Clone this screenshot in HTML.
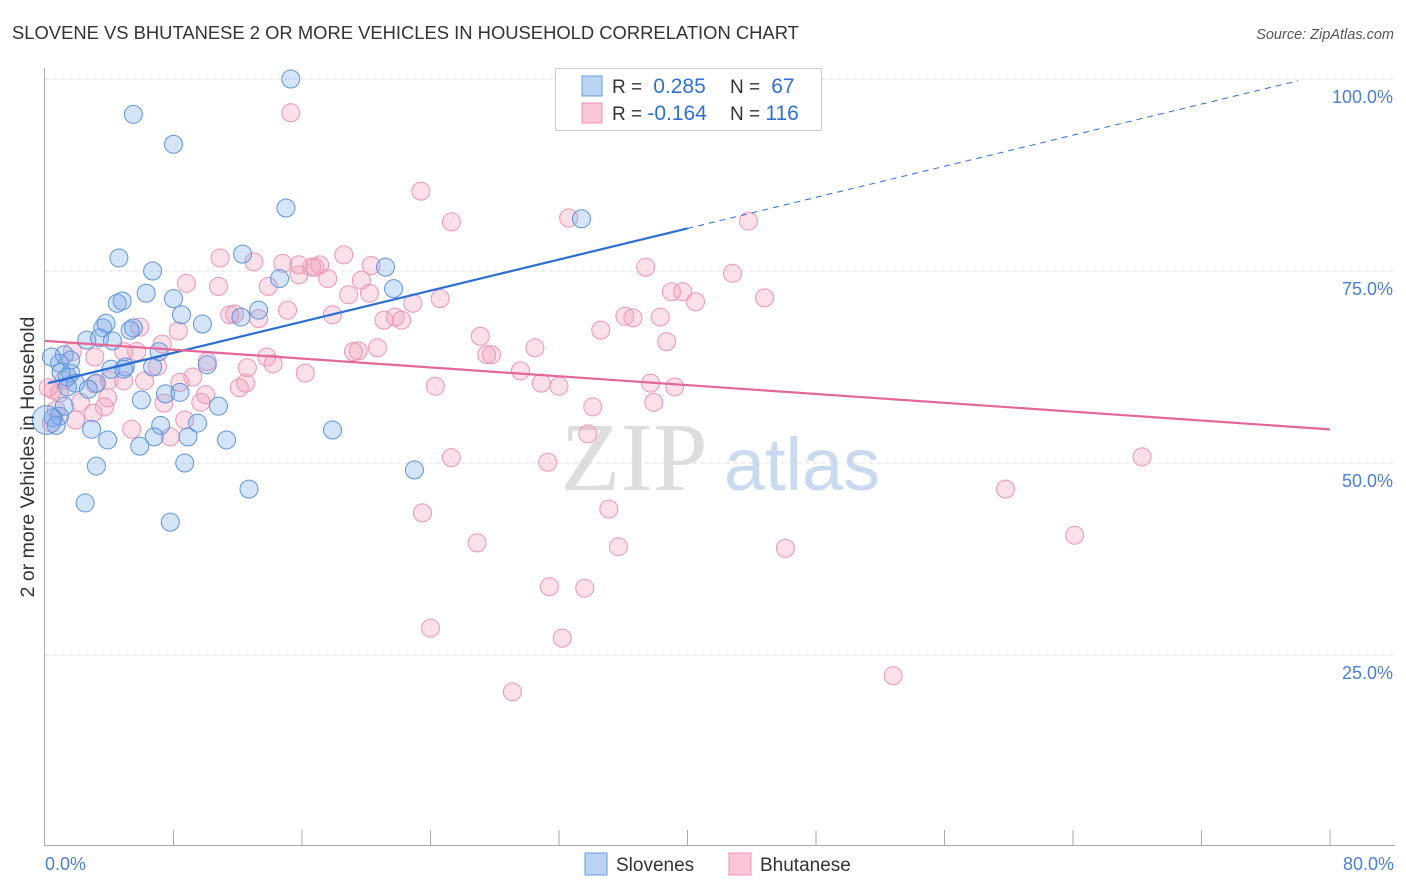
<!DOCTYPE html>
<html><head><meta charset="utf-8"><style>
body{margin:0;background:#fff;font-family:"Liberation Sans",sans-serif}
#wrap{position:relative;width:1406px;height:892px;overflow:hidden}
</style></head><body>
<div id="wrap">
<svg id="svg" width="1406" height="892" xmlns="http://www.w3.org/2000/svg">
<text x="12" y="39" font-size="18.4" fill="#333">SLOVENE VS BHUTANESE 2 OR MORE VEHICLES IN HOUSEHOLD CORRELATION CHART</text>
<text x="1394" y="39" font-size="14.5" fill="#555" font-style="italic" text-anchor="end">Source: ZipAtlas.com</text>
<text x="634" y="490" font-size="98" fill="#ddd" font-family="Liberation Serif,serif" text-anchor="middle">ZIP</text>
<text x="802" y="490" font-size="74" fill="#c9daf0" text-anchor="middle">atlas</text>
<g id="grid"></g><g id="pts"></g><g id="lines"></g>
<text x="34" y="457" font-size="19.5" fill="#333" text-anchor="middle" transform="rotate(-90 34 457)">2 or more Vehicles in Household</text>
<text x="45" y="870" font-size="18" fill="#4a7fd4">0.0%</text>
<text x="1394" y="870" font-size="18" fill="#4a7fd4" text-anchor="end">80.0%</text>
<g>
<rect x="555.5" y="68.5" width="266" height="62" fill="#fff" stroke="#ccc"/>
<rect x="582" y="76" width="20" height="20" fill="#b9d3f3" stroke="#6a9de0"/>
<rect x="582" y="103" width="20" height="20" fill="#f9c6d6" stroke="#ee93b2"/>
<text x="612" y="93" font-size="19" fill="#333">R = <tspan fill="#2f6fd6" font-size="21">&#160;0.285</tspan><tspan x="730">N = </tspan><tspan fill="#2f6fd6" font-size="21">&#160;67</tspan></text>
<text x="612" y="120" font-size="19" fill="#333">R = <tspan fill="#2f6fd6" font-size="21">-0.164</tspan><tspan x="730">N = </tspan><tspan fill="#2f6fd6" font-size="21">116</tspan></text>
</g>
<g>
<rect x="585" y="853" width="22" height="22" fill="#b9d3f3" stroke="#6a9de0"/>
<text x="616" y="871" font-size="19" fill="#333">Slovenes</text>
<rect x="729" y="853" width="22" height="22" fill="#f9c6d6" stroke="#ee93b2"/>
<text x="760" y="871" font-size="19" fill="#333">Bhutanese</text>
</g>
</svg></div>
<script>
const yTicks=[100,75,50,25];
const yTickLabels=["100.0%","75.0%","50.0%","25.0%"];
const xTicks=[0,8,16,24,32,40,48,56,64,72,80];
const blueX=[15.3,5.5,8.0,15.0,33.4,4.6,12.3,6.7,21.2,14.6,6.3,21.7,4.5,4.8,8.0,13.3,12.2,8.5,9.8,3.6,3.8,5.5,5.3,2.6,3.4,4.2,1.2,7.1,0.9,5.0,6.7,1.6,10.1,1.4,1.9,3.2,2.7,1.4,6.0,7.5,8.4,10.8,0.5,0.9,2.9,9.5,7.2,3.9,6.8,8.9,11.3,5.9,17.9,3.2,8.7,23.0,2.5,12.7,7.8,0.7,1.0,0.4,1.6,4.1,4.9,1.2,0.1];
const blueY=[100.0,95.4,91.5,83.2,81.8,76.7,77.2,75.0,75.5,74.0,72.1,72.7,70.8,71.1,71.4,69.9,69.0,69.3,68.1,67.6,68.2,67.6,67.3,66.0,66.3,65.9,64.1,64.5,63.0,62.5,62.5,61.7,62.8,61.2,60.4,60.4,59.6,59.9,58.2,59.0,59.2,57.4,55.9,56.1,54.4,55.2,54.9,53.0,53.4,53.4,53.0,52.2,54.3,49.6,50.0,49.1,44.8,46.6,42.3,54.9,61.8,63.8,63.4,62.2,62.2,57.4,55.6];
const blueSize=blueX.map((v,i)=>i===blueX.length-1?1.6:1);
const pinkX=[15.3,23.4,25.3,32.6,43.8,43.0,37.4,42.8,10.9,13.0,8.8,10.8,14.8,15.8,16.6,17.1,18.6,17.6,20.3,15.8,16.8,19.7,20.2,18.9,13.9,22.9,15.1,11.8,13.3,11.5,17.9,21.1,21.8,22.2,24.6,27.1,34.6,36.1,36.6,39.0,39.7,40.5,38.3,44.8,38.7,30.5,27.5,27.8,19.5,20.7,19.2,5.9,5.7,7.3,8.3,4.9,4.0,13.8,14.2,7.0,10.1,12.6,16.2,9.2,3.1,1.7,1.2,3.1,3.9,4.9,6.2,8.4,12.1,12.5,10.0,24.3,29.6,30.9,32.0,37.7,39.2,37.9,7.4,9.7,5.4,3.7,1.9,3.0,0.9,0.7,0.2,0.4,7.8,33.8,34.1,25.3,31.3,68.3,59.8,35.1,23.5,26.9,35.7,46.1,64.1,31.4,33.6,24.0,32.2,29.1,52.8,0.5,2.2,8.7];
const pinkY=[95.6,85.4,81.4,81.9,81.5,99.9,75.5,74.7,76.7,76.2,73.4,73.0,76.0,75.8,75.5,75.8,77.1,74.0,75.7,74.5,75.5,73.8,72.1,71.9,73.0,70.8,69.9,69.4,68.8,69.3,69.3,68.6,69.0,68.6,71.4,66.5,67.3,69.1,68.9,72.3,72.3,71.0,69.0,71.5,65.8,65.0,64.1,64.1,64.6,65.0,64.5,67.7,64.5,65.5,67.2,64.5,60.8,63.8,62.9,62.6,63.2,62.4,61.7,61.2,63.8,64.5,60.8,60.3,58.5,60.7,60.7,60.5,59.8,60.4,58.9,60.0,62.0,60.4,60.0,60.4,59.9,57.9,57.8,57.9,54.4,57.3,55.6,56.5,59.1,56.9,59.8,55.2,53.4,53.8,57.3,50.7,50.1,50.8,46.6,44.0,43.5,39.6,39.1,38.9,40.6,33.9,33.7,28.5,27.2,20.2,22.3,59.5,57.9,55.6];
const blueFit=[60.3,0.506], pinkFit=[65.9,-0.144];
const NS="http://www.w3.org/2000/svg";
const X=v=>45+v/80*1285, Y=v=>847-v/100*768;
function mk(t,a,p){const e=document.createElementNS(NS,t);for(const k in a)e.setAttribute(k,a[k]);p.appendChild(e);return e;}
const grid=document.getElementById('grid');
yTicks.forEach((t,i)=>{
 const l=mk('line',{x1:45,x2:1395,y1:Y(t),y2:Y(t),stroke:'#ddd','stroke-dasharray':'4,4'},grid);
 
 
 const tx=mk('text',{x:1393,y:Y(t)+24,'font-size':18,fill:'#4a7fd4','text-anchor':'end'},grid);
 tx.textContent=yTickLabels[i];
 
 
});
const ax=mk('line',{x1:44.5,x2:44.5,y1:68,y2:845,stroke:'#aaa'},grid);


const bx=mk('line',{x1:44,x2:1395,y1:845.5,y2:845.5,stroke:'#aaa'},grid);


xTicks.slice(1).forEach(t=>{
 const l=mk('line',{x1:X(t),x2:X(t),y1:830,y2:845,stroke:'#aaa'},grid);
 
 
});
const pts=document.getElementById('pts');
pinkX.forEach((x,i)=>{
 const c=mk('circle',{cx:X(x),cy:Y(pinkY[i]),r:9,fill:'rgba(244,160,188,0.32)',stroke:'#ec94b2','stroke-width':1},pts);
 
 
});
blueX.forEach((x,i)=>{
 const c=mk('circle',{cx:X(x),cy:Y(blueY[i]),r:9*blueSize[i],fill:'rgba(120,170,235,0.32)',stroke:'#5f93dc','stroke-width':1},pts);
 
 
});
const lines=document.getElementById('lines');
const b1=mk('line',{x1:X(0.2),y1:Y(blueFit[0]+blueFit[1]*0.2),x2:X(40),y2:Y(blueFit[0]+blueFit[1]*40),stroke:'#2b6fd6','stroke-width':2.2},lines);


const b2=mk('line',{x1:X(40),y1:Y(blueFit[0]+blueFit[1]*40),x2:X(78),y2:Y(blueFit[0]+blueFit[1]*78),stroke:'#2b6fd6','stroke-width':1,'stroke-dasharray':'6,5'},lines);


const p1=mk('line',{x1:X(0),y1:Y(pinkFit[0]),x2:X(80),y2:Y(pinkFit[0]+pinkFit[1]*80),stroke:'#e4679a','stroke-width':2.2},lines);


</script>
</body></html>
